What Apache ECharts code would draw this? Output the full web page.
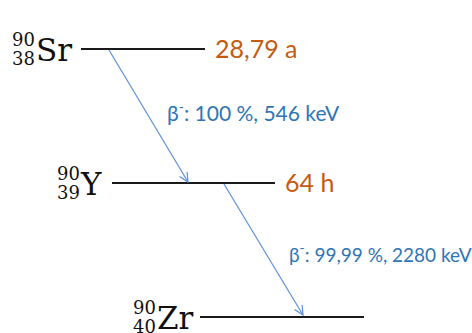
<!DOCTYPE html>
<html>
<head>
<meta charset="utf-8">
<title>Zerfallsschema Sr-90</title>
<script src="https://cdn.jsdelivr.net/npm/echarts@6/dist/echarts.min.js"></script>
<style>
  html, body { margin: 0; padding: 0; background: #ffffff; }
  #chart { width: 472px; height: 333px; }
</style>
</head>
<body>
<div id="chart"></div>
<script>
// Nuclides of the decay chain Sr-90 -> Y-90 -> Zr-90
const symbols = ['Sr', 'Y', 'Zr'];
const massNumbers = [90, 90, 90];
const atomicNumbers = [38, 39, 40];
const halfLives = ['28,79 a', '64 h', ''];

// Beta-minus transitions between consecutive levels
const branchPercents = ['100', '99,99'];
const betaEnergiesKeV = [546, 2280];

// Drawing layout (pixel space of the 472 x 333 canvas)
const levelY = [49, 183, 317];
const levelStartX = [81, 112, 200];
const levelEndX = [205, 275, 364];
const symbolLeftX = [36, 81, 157];
const arrowStart = [[109, 50], [224, 184]];
const arrowEnd = [[188, 182], [303, 315]];
const transitionLabelPos = [[167, 111], [289, 252]];
const transitionFontSize = [21, 19];

const ORANGE = '#C55A11';
const BLUE_TEXT = '#2E75B6';
const BLUE_ARROW = '#5B8FDA';
const SERIF = '"DejaVu Serif", "Liberation Serif", serif';
const SANS = 'Lato, "Open Sans", sans-serif';

function renderLevel(params, api) {
  const i = api.value(0);
  const a = api.coord([levelStartX[i], levelY[i]]);
  const b = api.coord([levelEndX[i], levelY[i]]);
  const s = api.coord([symbolLeftX[i], levelY[i]]);
  const children = [
    { type: 'line', shape: { x1: a[0], y1: a[1], x2: b[0], y2: b[1] },
      style: { stroke: '#1a1a1a', lineWidth: 2 } },
    { type: 'text', x: s[0], y: s[1] + 1,
      style: { text: symbols[i], font: '31px ' + SERIF, fill: '#111',
               align: 'left', verticalAlign: 'middle' } },
    { type: 'text', x: s[0] - 1, y: s[1] - 9.5,
      style: { text: String(massNumbers[i]), font: '18px ' + SERIF, fill: '#111',
               align: 'right', verticalAlign: 'middle' } },
    { type: 'text', x: s[0] - 1, y: s[1] + 9.5,
      style: { text: String(atomicNumbers[i]), font: '18px ' + SERIF, fill: '#111',
               align: 'right', verticalAlign: 'middle' } }
  ];
  if (halfLives[i]) {
    children.push({ type: 'text', x: b[0] + 10, y: b[1] - 1,
      style: { text: halfLives[i], font: '25px ' + SANS, fill: ORANGE,
               align: 'left', verticalAlign: 'middle' } });
  }
  return { type: 'group', children: children };
}

function renderTransition(params, api) {
  const i = api.value(0);
  const p0 = api.coord(arrowStart[i]);
  const p1 = api.coord(arrowEnd[i]);
  const ang = Math.atan2(p1[1] - p0[1], p1[0] - p0[0]);
  const head = 10, spread = 0.45;
  const h1 = [p1[0] - head * Math.cos(ang - spread), p1[1] - head * Math.sin(ang - spread)];
  const h2 = [p1[0] - head * Math.cos(ang + spread), p1[1] - head * Math.sin(ang + spread)];
  const lp = api.coord(transitionLabelPos[i]);
  const fs = transitionFontSize[i];
  const arrowStyle = { stroke: BLUE_ARROW, lineWidth: 1.2, fill: null };
  return {
    type: 'group',
    children: [
      { type: 'line', shape: { x1: p0[0], y1: p0[1], x2: p1[0], y2: p1[1] }, style: arrowStyle },
      { type: 'polyline', shape: { points: [h1, p1, h2] }, style: arrowStyle },
      { type: 'text', x: lp[0], y: lp[1],
        style: {
          text: '{b|β}{s|-}{t|: ' + branchPercents[i] + ' %, ' + betaEnergiesKeV[i] + ' keV}',
          align: 'left', verticalAlign: 'middle',
          rich: {
            b: { font: fs + 'px ' + SANS, fill: BLUE_TEXT, lineHeight: 24, verticalAlign: 'bottom' },
            s: { font: '14px ' + SANS, fill: BLUE_TEXT, lineHeight: 24, verticalAlign: 'top' },
            t: { font: fs + 'px ' + SANS, fill: BLUE_TEXT, lineHeight: 24, verticalAlign: 'bottom' }
          }
        } }
    ]
  };
}

const chart = echarts.init(document.getElementById('chart'), null, { renderer: 'svg' });
chart.setOption({
  animation: false,
  backgroundColor: '#ffffff',
  grid: { left: 0, right: 0, top: 0, bottom: 0 },
  xAxis: { type: 'value', min: 0, max: 472, show: false },
  yAxis: { type: 'value', min: 0, max: 333, inverse: true, show: false },
  series: [
    { type: 'custom', name: 'Niveaus', renderItem: renderLevel,
      data: symbols.map(function (s, i) { return [i]; }) },
    { type: 'custom', name: 'Beta-Zerfall', renderItem: renderTransition,
      data: branchPercents.map(function (p, i) { return [i]; }) }
  ]
});
</script>
</body>
</html>
